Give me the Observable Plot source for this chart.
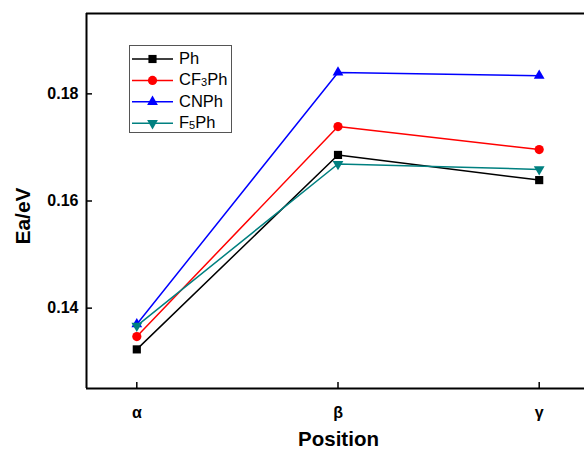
<!DOCTYPE html>
<html><head><meta charset="utf-8">
<script src="https://cdn.jsdelivr.net/npm/d3@7"></script>
<script src="https://cdn.jsdelivr.net/npm/@observablehq/plot@0.6"></script>
<style>
body{margin:0;background:#fff;}
#chart{position:relative;width:584px;height:452px;overflow:hidden;font-family:"Liberation Sans",Arial,sans-serif;}
#legend{position:absolute;left:129px;top:45px;}
</style></head><body><div id="chart"></div>
<script>
// ---- data ----
const positions = ["α", "β", "γ"];
const posIndex = [1, 2, 3];
const seriesNames = ["Ph", "CF3Ph", "CNPh", "F5Ph"];
const ph    = [0.1323, 0.1686, 0.1639];
const cf3ph = [0.1347, 0.1739, 0.1696];
const cnph  = [0.1370, 0.1840, 0.1834];
const f5ph  = [0.1367, 0.1669, 0.1659];
const yTicks = [0.14, 0.16, 0.18];
const yTitle = "Ea/eV";
const xTitle = "Position";
const colors = ["#000000", "#ff0000", "#0000ff", "#008080"];
const symbols = ["square", "circle", "triangle", "triangle"];
const rotations = [0, 0, 0, 180];
const radii = [4.6, 4.6, 4.0, 4.0];

const seriesValues = [ph, cf3ph, cnph, f5ph];
const table = seriesNames.map((name, s) =>
  posIndex.map((p, i) => ({series: name, pos: p, value: seriesValues[s][i]})));

const marks = [
  Plot.ruleX([0.75], {stroke: "#000", strokeWidth: 2}),
  Plot.ruleY([0.125, 0.195], {stroke: "#000", strokeWidth: 2}),
  Plot.axisY(yTicks, {tickSize: -6, tickPadding: 14, strokeWidth: 1.5,
    tickFormat: d3.format(".2f"), fontSize: 16, fontWeight: "bold", label: null}),
  Plot.axisX(posIndex, {tickSize: -6, tickPadding: 24, strokeWidth: 1.5,
    tickFormat: d => positions[posIndex.indexOf(d)], fontSize: 16, fontWeight: "bold", label: null}),
  Plot.text([yTitle], {frameAnchor: "left", rotate: -90, dx: -63, dy: 15,
    fontSize: 21, fontWeight: "bold", fill: "#000", textAnchor: "middle", lineAnchor: "middle"}),
  Plot.text([xTitle], {frameAnchor: "bottom", dx: 3, dy: 51,
    fontSize: 20.5, fontWeight: "bold", fill: "#000", textAnchor: "middle", lineAnchor: "middle"})
];
table.forEach((rows, s) => {
  marks.push(Plot.line(rows, {x: "pos", y: "value", stroke: colors[s], strokeWidth: 1.5}));
  marks.push(Plot.dot(rows, {x: "pos", y: "value", fill: colors[s], stroke: "none",
    symbol: () => symbols[s], r: radii[s], rotate: rotations[s]}));
});

const plot = Plot.plot({
  width: 584, height: 452,
  marginLeft: 86, marginRight: 0, marginTop: 13, marginBottom: 64,
  style: {fontFamily: "'Liberation Sans', Arial, sans-serif", background: "#fff", color: "#000"},
  x: {type: "linear", domain: [0.75, 3.25], range: [86, 589]},
  y: {domain: [0.125, 0.195]},
  symbol: {type: "identity"},
  marks
});
const chart = document.getElementById("chart");
chart.appendChild(plot);

// ---- legend ----
const lw = 103, lh = 88, rowH = 21.4;
const leg = d3.select(chart).append("svg").attr("id", "legend")
  .attr("width", lw).attr("height", lh);
leg.append("rect").attr("x", 0.5).attr("y", 0.5).attr("width", lw - 1).attr("height", lh - 1)
  .attr("fill", "#fff").attr("stroke", "#555").attr("stroke-width", 1);
const d3sym = {square: d3.symbolSquare, circle: d3.symbolCircle, triangle: d3.symbolTriangle};
seriesNames.forEach((name, s) => {
  const cy = 14 + s * rowH;
  const g = leg.append("g");
  g.append("line").attr("x1", 3).attr("x2", 44).attr("y1", cy).attr("y2", cy)
    .attr("stroke", colors[s]).attr("stroke-width", 1.5);
  g.append("path").attr("d", d3.symbol(d3sym[symbols[s]], Math.PI * radii[s] * radii[s])())
    .attr("transform", `translate(23.5,${cy}) rotate(${rotations[s]})`).attr("fill", colors[s]);
  const t = g.append("text").attr("x", 50).attr("y", cy + 6)
    .attr("font-size", 16.5).attr("fill", "#000")
    .attr("font-family", "'Liberation Sans', Arial, sans-serif");
  name.split(/(\d)/).filter(p => p).forEach(p => {
    if (/\d/.test(p)) t.append("tspan").attr("font-size", 11).attr("dy", 1).text(p);
    else t.append("tspan").attr("dy", t.selectAll("tspan").size() ? -1 : 0).text(p);
  });
});
</script></body></html>
